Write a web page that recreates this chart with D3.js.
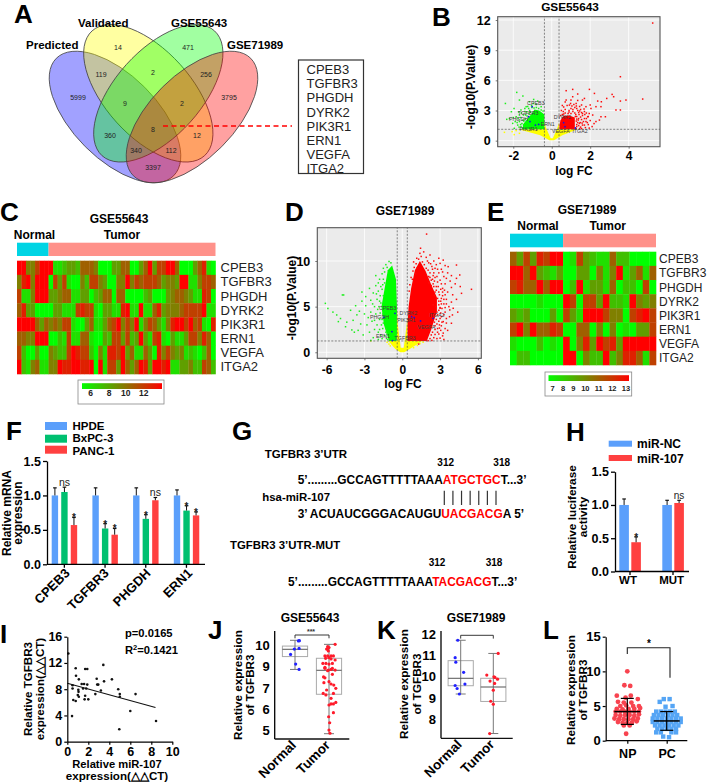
<!DOCTYPE html>
<html><head><meta charset="utf-8">
<script src="https://cdn.jsdelivr.net/npm/d3@7/dist/d3.min.js"></script>
<style>html,body{margin:0;padding:0;background:#fff}svg{display:block}text{font-family:"Liberation Sans",Arial,sans-serif}</style>
</head><body><svg id="c" width="712" height="783"></svg>
<script>
// ---------- DATA ----------
const genes=["CPEB3","TGFBR3","PHGDH","DYRK2","PIK3R1","ERN1","VEGFA","ITGA2"];
const vennNames=["Predicted","Validated","GSE55643","GSE71989"];
const vennCounts=[["5999",78,97],["14",118,47],["471",188,47],["3795",229,97],["119",101,74],["2",153,72],["256",206,74],["9",125,103],["2",182,103],["360",110,135],["8",153,129],["12",197,135],["340",136,150],["112",171,150],["3397",153,167]];
const volcBRed=[[5.25,11.7],[3.57,6.36],[4.73,4.14],[3.86,4.04],[3.57,3.94],[3.57,3.05],[3.34,3.05],[3.14,4.6],[3.22,4.37],[2.86,4.2],[2.58,3.87],[2.39,3.94],[2.56,3.38],[2.3,3.38],[1.96,5.1],[2.22,4.7],[1.7,4.2],[1.6,4.04],[.75,4.97],[1.09,5.1],[1.09,4.37],[1.35,4.64],[1,4.04],[.75,4.04],[.92,3.54],[1.27,3.7],[1.78,3.38],[2.04,3.2],[2.13,2.55],[1.87,2.38],[1.6,2.7],[2.56,2.38],[2.79,2.38],[2.48,2.05],[2.3,1.9],[1.78,1.9],[1.44,1.72],[1.6,1.55],[1.27,1.2],[1.3,3.2],[1.5,3.1],[1.7,2.9],[1.4,2.8],[1.2,3.3],[1,3.2],[.9,3],[.7,3.1],[.6,2.9],[.5,3],[1.6,2.5],[1.8,2.2],[1.9,1.6],[2.1,1.4],[1.4,2.2],[1.55,2.1],[1.35,1.8],[1.65,1.9],[1.25,2.6],[1.1,2.9],[.85,2.7],[1.45,3.4],[1.15,3.6],[.8,3.5],[1.35,4],[1.5,2.35],[1.72,2.6],[1.95,2.7],[1.3,2.4],[2,2],[1.5,1.35],[1.75,1.3],[1.45,2.95],[1.05,3.45],[.62,3.35],
[1.3,1.4],[1.3,1.6],[1.4,1.5],[1.28,1.95],[1.38,2.05],[1.48,1.8],[1.58,1.75],[1.3,2.15],[1.23,2.4],[1.42,2.6],[1.35,3],[1.55,2.8],[1.2,2.75],[1,2.7],[.9,2.85],[.7,2.75],[.55,2.6],[.45,2.5],[.62,2.65],[1.1,3.1],[1.28,3.45],[.98,3.7],[.7,3.85],[.55,3.5],[1.55,3.55],[1.8,2.75],[1.7,2.2],[1.85,1.8],[1.7,1.55],[1.95,1.25],[2.2,1.7],[1.55,1.2],[1.45,1.2],[1.68,3.15],[2,3.55],[1.9,2.4]];
const volcBGreen=[[-1.82,4.8],[-2.41,3.7],[-1.5,4.44],[-1.68,4.04],[-.94,4.1],[-1.96,3.2],[-2.1,2.88],[-2.34,2.12],[-2.2,2.2],[-1.85,2.38],[-1.68,2.55],[-2.03,1.72],[-1.77,1.55],[-1.95,1.23],[-1.6,3.05],[-1.33,3.38],[-1.16,3.87],[-.73,3.94],[-.55,3.38],[-1.5,2.05],[-1.68,1.9],[-1.6,1.4],[-1.47,2.55],[-1.2,3.2],[-1.05,3.5],[-.8,3.6],[-1.4,2.9],[-1.75,2.2],[-1.55,1.7],[-1.9,1.9],[-2.0,2.3],[-1.62,2.3],[-1.3,2.85],[-1.15,3.0],[-1.58,2.75],
[-1.52,1.25],[-1.7,1.35],[-1.62,1.6],[-1.45,1.95],[-1.38,2.15],[-1.28,2.45],[-1.18,2.7],[-1.1,2.85],[-1.03,3.3],[-.92,3.25],[-.8,3.3],[-.68,3.2],[-.55,3.05],[-.45,2.95],[-1.25,3.4],[-.95,3.7],[-1.8,1.8],[-1.4,3.2],[-1.72,2.85],[-1.35,2.55]];
const volcBYellow=[[-2.46,.83],[-2.06,.9],[-1.68,.73],[-1.85,1],[-1.95,.6]];
const volcBGreenDense=[[-.38,1.13],[-1.5,1.13],[-1.5,1.6],[-1.25,2.2],[-1.05,2.65],[-.9,3.1],[-.65,3.0],[-.38,2.6]];
const volcBRedDense=[[.4,1.13],[1.2,1.13],[1.2,2.3],[.9,2.5],[.6,2.45],[.45,2],[.4,1.5]];
const volcBYellowDense=[[-1.75,1.13],[-.38,1.13],[-.38,1.8],[-.3,1.3],[-.06,.25],[.06,.25],[.3,1.3],[.38,1.8],[.38,1.13],[1.35,1.13],[.55,.55],[.12,.05],[-.12,.05],[-.6,.55],[-1.3,.9]];
const volcBGenes=[[-1.02,3.38],[-1.2,2.38],[-1.13,1.9],[.62,1.79],[-.85,1.55],[-.68,1.62],[.69,1.39],[1.23,1.26]];
const volcBLabelShift=[[-5,-1.5],[-11,-1.5],[-21,-0.5],[-10,-3.5],[-16,6],[2,2],[-13,6],[-3,5]];
const volcDRed=[[1.93,12.95],[1.4,10.84],[2.2,10.66],[3.25,10.1],[3,9.74],[4.3,9.56],[3.64,9.38],[4.56,8.47],[4.3,8.1],[5.49,6.9],[4.7,6.46],[4.04,4.82],[3.77,4.64],[3.98,4.09],[3.9,3.18],[3.25,3.36],[3,4.82],[1.7,11],[1.3,10.2],[1.9,10.4],[2.5,10],[2.9,10.3],[3.4,9.5],[2.7,9.6],[2.1,9.8],[1.6,9.9],[3.1,9.1],[3.6,8.7],[3.9,8.4],[2.4,9.1],[2.9,8.7],[3.3,8.3],[3.8,7.8],[4.2,7.5],[4.6,7.2],[2.6,8.2],[3,7.9],[3.4,7.5],[3.9,7.1],[3.2,7],[3.6,6.6],[4,6.3],[4.3,5.8],[3.2,6.2],[3.5,5.8],[3.9,5.5],[3.3,5.3],[3.7,5],[4.4,4.4],[3.4,4.4],[3.1,3.9],[3.5,3.7],[2.9,3.4],[3.1,2.9],[3.4,2.6],[2.8,2.6],[2.9,2],[2.5,1.6],[3.2,1.8],[2.6,2.9],[2.1,8.3],[1.9,9.2],[2.3,7.9],[2.7,7.2],[2.9,6.6],[3.05,5.6],[3,4.9],[2.7,3.6],[2.4,2.2],[2.2,1.5],[2.3,1.9],[2.45,7.5],[2.6,6.6],[1.1,9.7],[.85,8.9],[.7,8.2],[.55,6.7],[1.15,10.3],[.95,9.3],[2.8,5.9],[2.65,5],[2.6,4.2],[1.3,.9],[1.2,1.3],[2.05,1.27],[2.75,4.4],[3.6,2.4],[3.3,1.4],
[2.35,9.4],[2.05,9],[2.2,8.7],[2.5,8.7],[2.75,8.3],[2.2,8.2],[2.4,8],[2.8,7.7],[3.1,7.5],[2.55,7.8],[2.5,7.2],[2.85,7.2],[3.05,6.9],[3.35,6.8],[2.7,6.8],[2.95,6.3],[3.2,6.6],[3.4,6.3],[3.1,5.9],[3.3,5.8],[2.9,5.6],[3.1,5.3],[3.5,5.3],[2.9,5.2],[3.15,4.8],[3.4,4.9],[3.05,4.3],[3.3,4.1],[2.9,4.6],[3,3.7],[2.75,3.1],[2.95,3],[2.55,3.3],[2.6,2.5],[2.8,2.2],[3.05,2.4],[2.35,1.3],[2.6,1.95],[2.75,1.5],[3,1.55],[3.25,2.1],[1.5,10.5],[1.15,9.2],[1.75,9.6],[2,10],[1.05,8.6],[.8,8],[2.45,8.4],[2.25,9.7],[2.6,9.2],[2.8,9.1],[3.2,8.8],[3.5,8.1],[.6,7.4],[.9,9.9],[1.45,11.4],[2.1,7.6],[2.3,7.3],[2.55,6.2],[2.45,5.2],[2.8,4.1],[3.5,3.2],[3.15,3.3],[3.75,3.9],[1.9,1.3],[2.95,2.65]];
const volcDGreen=[[-6.1,5.36],[-5.9,4.8],[-4.75,6.28],[-4.65,6.28],[-5.2,4.09],[-5.07,3.36],[-4.5,2.8],[-4,2.45],[-5.5,4.4],[-4.9,3.7],[-4.4,3.3],[-3.9,3.5],[-3.5,2.4],[-3.3,3.1],[-3.6,4.1],[-4.1,4.6],[-3.7,5.1],[-3.2,5.6],[-3.4,4.5],[-3,4.2],[-2.7,3.8],[-2.9,5.1],[-2.5,5.7],[-2.9,6.1],[-2.6,7],[-2.3,6.5],[-3.2,6.6],[-2.1,7.3],[-1.9,7.6],[-2.2,5],[-2.5,4.4],[-2.1,4.2],[-2.8,3],[-2.4,3.4],[-2.6,2.2],[-2,3],[-1.8,2.5],[-2.2,2.5],[-1.7,1.9],[-2.3,1.6],[-1.9,1.4],[-1.6,1.5],[-2.5,1.3],[-1.8,3.6],[-2,5.8],[-1.9,6.7],[-1.8,8],[-1.6,8.6],[-1.5,9.2],[-1.3,9.6],[-1.05,9.95],[-.9,9.8],[-2.1,8.4],[-1.75,4.3],[-1.7,5.4],[-1.85,5],[-1.3,2.2],[-1.4,1.8],[-1.25,1.5],[-3.1,1.9],[-1.55,7.4],[-1.6,6.9],[-3.8,2.2],
[-1.7,7.2],[-1.5,8],[-1.75,6.2],[-1.8,5.6],[-1.95,4.7],[-1.55,4.2],[-1.6,3.6],[-1.5,3.2],[-1.55,2.6],[-1.3,2.6],[-1.2,2],[-1.15,1.4],[-1.4,8.8],[-1.2,9.3],[-1.65,3],[-1.9,2.2],[-2.2,3.5],[-2.35,5.3],[-2.05,6.4],[-1.4,7.6],[-1.5,6.2]];
const volcDYellow=[[-2.5,1.25],[-1.2,1.1],[-.95,.7],[1.65,1.1],[1.2,.75],[1.4,.95],[-1.05,.9],[.9,.5]];
const volcDGreenDense=[[-.42,2.1],[-.42,5],[-.5,8],[-.8,9.5],[-1.15,9],[-1.4,7],[-1.65,5],[-1.45,3],[-1.05,1.24],[-.45,1.24]];
const volcDRedDense=[[.42,1.24],[1.95,1.24],[2.3,2.5],[2.75,4.5],[2.75,6],[2.3,7.4],[1.85,8.9],[1.4,10],[1.0,9],[.7,7],[.5,5],[.42,3]];
const volcDYellowDense=[[-1.1,1.24],[-.42,1.24],[-.42,5],[-.35,3],[-.12,.5],[.12,.5],[.35,3],[.42,4],[.42,1.24],[1.6,1.24],[.6,.35],[.15,0],[-.15,0],[-.55,.35]];
const volcDGenes=[[-.58,4.27],[-.77,1.28],[-1.45,3.83],[.74,3.9],[.95,3.8],[-.82,2.26],[1.45,3.43],[2.45,3.72]];
const volcDLabelShift=[[-16,-3],[2,-1],[-14,2],[-12,-2],[-17,4],[-16,6],[-3,8],[-4,-1]];
const heatC=[
[13,13,9,9,11,13,13,13,6,6,7,8,8,7,10,10,10,9,5,5,5,8,8,10,10,5,5,8,10,13,8,11,11,13,13,10,5,5,5,8,10,12,6,5],
[9,12,13,9,13,13,13,5,11,8,11,6,5,5,9,7,11,11,9,8,5,5,9,9,13,9,11,10,11,11,11,10,8,9,9,8,13,13,6,6,9,11,11,10],
[11,6,6,9,13,13,13,8,8,9,10,10,6,6,8,8,5,7,8,10,10,5,10,10,5,5,5,5,7,8,5,5,5,8,9,10,10,9,8,6,6,12,11,5],
[10,12,8,8,5,5,5,5,8,8,6,6,6,11,12,11,11,6,5,8,8,6,6,12,13,6,6,13,6,6,10,12,8,9,9,9,10,11,11,11,11,13,6,6],
[13,13,13,13,10,8,10,9,10,9,11,11,6,5,5,8,10,6,6,8,10,11,13,9,11,9,13,6,9,11,10,8,6,9,12,13,13,11,13,10,11,6,5,12],
[10,10,9,9,13,13,13,5,5,7,6,11,6,6,10,10,6,5,5,8,7,11,11,8,11,7,8,13,8,6,11,12,6,5,8,6,6,8,11,11,9,12,10,5],
[11,7,5,5,8,5,5,9,8,7,7,11,13,12,11,11,7,5,9,6,12,12,11,13,8,10,6,6,10,8,5,12,9,11,9,8,9,6,7,6,5,7,10,5],
[13,7,6,9,10,6,6,9,9,13,12,12,13,13,12,12,13,5,13,6,11,11,8,13,10,8,10,13,12,8,13,13,12,13,6,6,8,8,9,7,7,11,10,7]];
const heatE=[
[10,8,11,8,12,11,13,13,5,6,11,8,7,6,6,10,7,7,5,5,5,5],
[13,13,10,13,8,7,6,8,5,5,8,8,5,9,6,9,13,6,8,10,6,10],
[11,12,10,10,13,10,13,13,5,7,13,6,8,8,6,10,5,7,7,5,11,5],
[5,5,5,5,6,5,5,5,13,11,5,11,11,8,13,7,7,6,13,9,8,9],
[8,7,8,5,5,5,8,5,11,8,6,13,13,13,11,9,9,5,11,12,13,11],
[11,13,9,13,10,10,12,11,5,5,10,10,5,9,5,9,5,6,5,8,8,11],
[6,5,5,5,7,5,6,5,13,5,9,12,8,13,11,12,8,13,13,13,13,13],
[5,7,7,5,5,5,5,5,13,13,5,9,7,7,13,7,9,12,12,10,6,11]];
const heatCNormal=7, heatENormal=8;
const barFGroups=["CPEB3","TGFBR3","PHGDH","ERN1"];
const barFSeries=["HPDE","BxPC-3","PANC-1"];
const barFValues=[[1,1.05,.57],[1,.52,.43],[1,.66,.93],[1,.78,.71]];
const barFErrTop=[[1.11,1.12,.68],[1.11,.59,.52],[1.11,.72,.97],[1.08,.85,.76]];
const barFMarks=[["","ns","*"],["","*","*"],["","*","ns"],["","*","*"]];
const barHGroups=["WT","MUT"];
const barHSeries=["miR-NC","miR-107"];
const barHValues=[[1,.44],[1,1.03]];
const barHErrTop=[[1.09,.52],[1.07,1.07]];
const barHMarks=[["","*"],["","ns"]];
const scatterI=[[.1,13.45],[.8,11.2],[.83,10.05],[1.1,9.5],[1.7,11.07],[1.9,11.07],[3.43,11.7],[2.8,9.6],[3.5,9.2],[4.25,9.5],[2.95,8.7],[2.85,8.7],[3.2,7.8],[2.67,7.25],[4.85,8],[5,7.25],[5,6.85],[6.5,7.25],[6,4.67],[4.95,1.9],[8.45,3.15],[.45,3.9],[.5,8.1],[.5,8.6],[.57,6.35],[.8,6.2],[1.05,7.9],[1.07,7.6],[1,7.1],[1.1,6.85],[1.37,8.8],[1.6,8.8],[1.5,8.1],[1.8,8.1],[1.9,8.7],[1.7,7],[1.65,6.45],[2,6.45]];
const lineI=[[0,8.9],[8.4,5.2]];
const jTickPos=[5,6,7,8,9], jTickLabels=["5","6","7","9","10"];
const jStats=[{q1:8.46,med:8.8,q3:8.95,lo:7.86,hi:9.22},{q1:6.7,med:7.82,q3:8.38,lo:4.86,hi:9.03}];
const jNormal=[[.1,9.19],[.13,9.2],[.12,8.84],[-.02,8.81],[-.13,8.56],[.02,8.11],[.12,7.86]];
const jTumor=[[1.18,9.03],[.96,8.92],[1,8.88],[.93,8.81],[.96,8.81],[.98,8.72],[.88,8.49],[.96,8.49],[1.06,8.49],[1.13,8.49],[.9,8.38],[1,8.41],[1.06,8.35],[1.18,8.3],[.82,8.14],[.91,8.14],[1,8.11],[1.1,8.14],[.88,7.91],[1.1,7.91],[1.18,7.83],[.98,7.83],[1.06,7.86],[.96,7.8],[.88,7.96],[1.1,7.63],[.84,7.51],[.88,7.47],[.85,7.24],[1,7.29],[1.06,7.18],[1.14,7.13],[1.2,6.98],[.93,6.9],[.83,6.74],[.91,6.67],[1.13,6.74],[1.06,6.51],[1.2,6.32],[1.13,6.25],[1,6.2],[1.06,6.25],[1.13,5.84],[.99,5.65],[1.02,5.37],[1,5.03],[1.03,4.88]];
const kStats=[{q1:9.58,med:9.93,q3:10.76,lo:9.19,hi:11.72},{q1:8.84,med:9.52,q3:9.93,lo:7.33,hi:11.1}];
const kNormal=[[-.09,11.72],[-.17,10.9],[-.15,10.69],[-.17,9.59],[-.11,9.45],[-.04,9.19],[.09,10.21],[.13,9.66]];
const kTumor=[[1.15,11.1],[.8,10.08],[.9,9.8],[1.02,10],[1.05,9.97],[1.13,9.89],[1.04,9.69],[1,9.37],[.92,8.85],[1,8.71],[.89,7.33]];
const boxCats=["Normal","Tumor"];
const lNP=[[0,10],[-2.5,8],[2.5,7.9],[-9,6.5],[3,6.5],[-1.5,6.2],[9,6],[-8,5.6],[-3,5.5],[3.5,5.5],[-6,5],[-1,5.1],[5,5],[10,5],[-9,4.6],[-4,4.5],[1,4.6],[6,4.6],[11,4.7],[-10,4.2],[-6,4.2],[-2,4.2],[2,4.2],[6,4.2],[10,4.2],[-10,3.7],[-6,3.6],[-2,3.7],[2,3.7],[6,3.6],[10,3.8],[-11,3.2],[-7,3.1],[-3,3.1],[1,3.1],[5,3.1],[9,3.2],[-8,2.7],[-4,2.6],[0,2.6],[4,2.6],[8,2.8],[-3,2.2],[2,2.2],[-1,1]];
const lPC=[[-2.5,6],[2.5,6],[-6,5.6],[-1,4.9],[5,5],[-9,4.2],[-5,4.2],[-1,4.2],[3,4.2],[7,4.2],[-11,3.7],[-7,3.7],[-3,3.7],[1,3.7],[5,3.7],[9,3.7],[-12,3.2],[-8,3.2],[-4,3.2],[0,3.2],[4,3.2],[8,3.2],[12,3.2],[-12,2.7],[-8,2.7],[-4,2.7],[0,2.7],[4,2.7],[8,2.7],[12,2.7],[-10,2.2],[-6,2.2],[-2,2.2],[2,2.2],[6,2.2],[10,2.2],[-8,1.7],[-4,1.7],[0,1.7],[4,1.7],[8,1.7],[-9,1.2],[-5,1.2],[4,1.2],[8,1.2],[-3,.6],[2,.5]];
const lStats=[{mean:4.2,lo:2.35,hi:6.1},{mean:2.85,lo:1.5,hi:4.2}];
const lCats=["NP","PC"];
const seqTop=[["5’.........GCCAGTTTTTAAA","#000"],["ATGCTGC","#f00"],["T...3’","#000"]];
const seqMid=[["3’ ACUAUCGGGACAUGU","#000"],["UACGACG","#f00"],["A 5’","#000"]];
const seqMut=[["5’.........GCCAGTTTTTAAA","#000"],["TACGACG","#f00"],["T...3’","#000"]];
const seedPairs=[0,1,2,3,4,5,6];
const letters=[["A",14,23],["B",432,26],["C",0,221],["D",285,221],["E",487,221],["F",6,440],["G",232,440],["H",566,441],["I",0,643],["J",208,639],["K",377,639],["L",543,639]];

// ---------- HELPERS ----------
const svg=d3.select("#c");
const FF='"Liberation Sans",Arial,sans-serif';
function T(x,y,s,o={}){const t=svg.append("text").attr("x",x).attr("y",y).text(s)
 .attr("font-size",o.size||11).attr("font-weight",o.weight||"bold").attr("fill",o.fill||"#000")
 .attr("text-anchor",o.anchor||"start");
 if(o.family)t.attr("font-family",o.family);
 if(o.rot!=null)t.attr("transform",`rotate(${o.rot} ${x} ${y})`);return t;}
function yLab(x,y,s,size=12){return T(x,y,s,{size,anchor:"middle",rot:-90});}
function axis(g,ax,o={}){g.call(ax);g.selectAll("text").attr("font-size",o.size||12.5).attr("font-weight","bold").attr("font-family",FF).attr("fill","#000");
 g.selectAll("path,line").attr("stroke",o.color||"#000").attr("stroke-width",o.sw||1.3);return g;}

letters.forEach(l=>T(l[1],l[2],l[0],{size:26}));

// ---------- A: VENN ----------
const venn=[{c:[115,117],a:83,b:42,r:45,f:"#0000ff"},{c:[148.3,93.3],a:84,b:43,r:48,f:"#ffff00"},{c:[158.3,93.3],a:84,b:43,r:-48,f:"#00ff00"},{c:[192,117],a:83,b:42,r:-45,f:"#ff0000"}];
venn.forEach(e=>{svg.append("ellipse").attr("cx",e.c[0]).attr("cy",e.c[1]).attr("rx",e.a).attr("ry",e.b)
 .attr("transform",`rotate(${e.r} ${e.c[0]} ${e.c[1]})`).attr("fill",e.f).attr("fill-opacity",.37).attr("stroke","#444").attr("stroke-width",.8);});
[[26,49],[78,27],[171,27],[227,49]].forEach((p,i)=>T(p[0],p[1],vennNames[i],{size:11.5}));
vennCounts.forEach(v=>T(v[1],v[2]+2.5,v[0],{size:7,weight:"normal",anchor:"middle",family:'"Liberation Serif",serif',fill:"#222"}));
svg.append("line").attr("x1",163).attr("x2",292).attr("y1",126).attr("y2",126).attr("stroke","#f00").attr("stroke-width",1.5).attr("stroke-dasharray","5,3.5");
svg.append("rect").attr("x",298.5).attr("y",60).attr("width",65).attr("height",113.5).attr("fill","#fff").attr("stroke","#333").attr("stroke-width",1.2);
genes.forEach((g,i)=>T(306.5,74+i*14.2,g,{size:13,weight:"normal",fill:"#222"}));

// ---------- B & D: VOLCANO ----------
function volcano(o){
 const x=d3.scaleLinear().domain(o.xd).range(o.xr), y=d3.scaleLinear().domain(o.yd).range(o.yr);
 const g=svg.append("g");
 g.append("rect").attr("x",o.xr[0]).attr("y",o.yr[1]).attr("width",o.xr[1]-o.xr[0]).attr("height",o.yr[0]-o.yr[1]).attr("fill","#ebebeb");
 o.xt.forEach(t=>g.append("line").attr("x1",x(t)).attr("x2",x(t)).attr("y1",o.yr[0]).attr("y2",o.yr[1]).attr("stroke","#fff").attr("stroke-width",.8));
 o.yt.forEach(t=>g.append("line").attr("y1",y(t)).attr("y2",y(t)).attr("x1",o.xr[0]).attr("x2",o.xr[1]).attr("stroke","#fff").attr("stroke-width",.8));
 const ln=d3.line().x(d=>x(d[0])).y(d=>y(d[1])).curve(d3.curveLinearClosed);
 [[o.yd_,"#ffff00"],[o.gd,"#00ff00"],[o.rd,"#ff0000"]].forEach(a=>g.append("path").attr("d",ln(a[0])).attr("fill",a[1]));
 [[o.ys,"#ffff00"],[o.gs,"#1cf01c"],[o.rs,"#ff0a0a"]].forEach(a=>g.append("g").selectAll("rect").data(a[0]).join("rect")
   .attr("x",d=>x(d[0])-.75).attr("y",d=>y(d[1])-.75).attr("width",1.5).attr("height",1.5).attr("fill",a[1]));
 [-o.vt,o.vt].forEach(v=>g.append("line").attr("x1",x(v)).attr("x2",x(v)).attr("y1",o.yr[0]).attr("y2",o.yr[1]).attr("stroke","#555").attr("stroke-width",.7).attr("stroke-dasharray","2,1.5"));
 g.append("line").attr("x1",o.xr[0]).attr("x2",o.xr[1]).attr("y1",y(o.ht)).attr("y2",y(o.ht)).attr("stroke","#555").attr("stroke-width",.7).attr("stroke-dasharray","2,1.5");
 g.append("rect").attr("x",o.xr[0]).attr("y",o.yr[1]).attr("width",o.xr[1]-o.xr[0]).attr("height",o.yr[0]-o.yr[1]).attr("fill","none").attr("stroke","#555").attr("stroke-width",1.1);
 g.selectAll("circle").data(o.genes).join("circle").attr("cx",d=>x(d[0])).attr("cy",d=>y(d[1])).attr("r",.9).attr("fill","#1414e6");
 o.genes.forEach((d,i)=>T(x(d[0])+o.shift[i][0],y(d[1])+o.shift[i][1],genes[i],{size:5.3,weight:"normal",fill:"#3c3c3c"}));
 const ax=svg.append("g").attr("transform",`translate(0,${o.yr[0]})`);
 axis(ax,d3.axisBottom(x).tickValues(o.xt).tickSize(2).tickPadding(o.xpad||5).tickFormat(d=>d<0?"-"+Math.abs(d):d),{color:"#555",sw:.8,size:12});ax.select(".domain").remove();
 const ay=svg.append("g").attr("transform",`translate(${o.xr[0]},0)`);
 axis(ay,d3.axisLeft(y).tickValues(o.yt).tickSize(2).tickPadding(5),{color:"#555",sw:.8,size:12.5}); ay.select(".domain").remove();
}
volcano({xd:[-2.81,5.63],xr:[497.7,660],yd:[-.6,12.33],yr:[146.7,16.7],xt:[-2,0,2,4],yt:[0,3,6,9,12],vt:.38,ht:1.13,xpad:3,
 gd:volcBGreenDense,rd:volcBRedDense,yd_:volcBYellowDense,gs:volcBGreen,rs:volcBRed,ys:volcBYellow,genes:volcBGenes,shift:volcBLabelShift});
T(570,11,"GSE55643",{size:11.8,anchor:"middle"});
T(574,175,"log FC",{size:12,anchor:"middle"});
yLab(475,87,"-log10(P.Value)",12);
volcano({xd:[-6.74,6.27],xr:[317.3,481.3],yd:[-.66,13.65],yr:[358.3,227.7],xt:[-6,-3,0,3,6],yt:[0,5,10],vt:.4,ht:1.24,
 gd:volcDGreenDense,rd:volcDRedDense,yd_:volcDYellowDense,gs:volcDGreen,rs:volcDRed,ys:volcDYellow,genes:volcDGenes,shift:volcDLabelShift});
T(405,215,"GSE71989",{size:12,anchor:"middle"});
T(403,388,"log FC",{size:12,anchor:"middle"});
yLab(296,298,"-log10(P.Value)",12);

// ---------- C & E: HEATMAPS ----------
const heatColor=d3.scaleLinear().domain([5,13]).range(["#00ff00","#ff0000"]);
function heat(o){
 const x=d3.scaleBand().domain(d3.range(o.data[0].length)).range([o.x0,o.x1]);
 const y=d3.scaleBand().domain(d3.range(8)).range([o.y0,o.y1]);
 o.data.forEach((r,i)=>svg.append("g").selectAll("rect").data(r).join("rect").attr("x",(d,j)=>x(j)).attr("y",y(i)).attr("width",x.bandwidth()+.3).attr("height",y.bandwidth()+.3).attr("fill",d=>heatColor(d)));
 const xn=x(o.normal);
 svg.append("rect").attr("x",o.x0).attr("y",o.by0).attr("width",xn-o.x0).attr("height",o.by1-o.by0).attr("fill","#00d4e4");
 svg.append("rect").attr("x",xn).attr("y",o.by0).attr("width",o.x1-xn).attr("height",o.by1-o.by0).attr("fill","#ff918a");
 genes.forEach((g,i)=>T(o.x1+o.lx,y(i)+y.bandwidth()/2+4.5,g,{size:o.ls,weight:"normal",fill:"#222"}));
}
heat({data:heatC,normal:heatCNormal,x0:17,x1:215.5,y0:260.7,y1:374,by0:242.7,by1:256,lx:5,ls:13});
T(119,223,"GSE55643",{size:12,anchor:"middle"});T(34.5,239,"Normal",{size:12,anchor:"middle"});T(122,239,"Tumor",{size:12,anchor:"middle"});
heat({data:heatE,normal:heatENormal,x0:510,x1:656,y0:251.7,y1:365,by0:233.7,by1:247.3,lx:3,ls:12});
T(587,214,"GSE71989",{size:12,anchor:"middle"});T(538,230,"Normal",{size:12,anchor:"middle"});T(607.7,230,"Tumor",{size:12,anchor:"middle"});
const defs=svg.append("defs");const grad=defs.append("linearGradient").attr("id","hg");
grad.append("stop").attr("offset","0%").attr("stop-color","#00ff00");grad.append("stop").attr("offset","100%").attr("stop-color","#ff0000");
function colorbar(o){
 svg.append("rect").attr("x",o.bx0).attr("y",o.by0).attr("width",o.bx1-o.bx0).attr("height",o.by1-o.by0).attr("fill","#fff").attr("stroke","#888").attr("stroke-width",.8);
 svg.append("rect").attr("x",o.gx0).attr("y",o.by0+3.2).attr("width",o.gx1-o.gx0).attr("height",5.8).attr("fill","url(#hg)");
 o.ticks.forEach((t,i)=>T(o.tx[i],o.ty,t,{size:o.size,anchor:"middle",fill:"#222"}));
}
colorbar({bx0:78,bx1:164,by0:380,by1:404,gx0:82,gx1:162,ty:396,size:8.5,ticks:[6,8,10,12],tx:[90.7,109,125.7,143.7]});
colorbar({bx0:545,bx1:631.7,by0:372,by1:396,gx0:548.5,gx1:629,ty:391,size:7.5,ticks:[7,8,9,10,11,12,13],tx:[552.7,563,573.3,585.3,598.7,612.3,626]});

// ---------- F & H: BARS ----------
const barCols={"HPDE":"#5b9ffb","BxPC-3":"#00c070","PANC-1":"#ff4040","miR-NC":"#5b9ffb","miR-107":"#ff4040"};
function bars(o){
 const y=d3.scaleLinear().domain([0,1.5]).range([o.y0,o.y15]);
 const x=d3.scaleBand().domain(o.groups).range(o.xr);
 const s=d3.scaleBand().domain(o.series).range(o.sr);
 o.groups.forEach((g,i)=>o.series.forEach((n,j)=>{
  const bx=x(g)+s(n), bw=o.bw, cx=bx+bw/2;
  svg.append("rect").attr("x",bx).attr("y",y(o.vals[i][j])).attr("width",bw).attr("height",y(0)-y(o.vals[i][j])).attr("fill",barCols[n]);
  svg.append("line").attr("x1",cx).attr("x2",cx).attr("y1",y(o.vals[i][j])).attr("y2",y(o.err[i][j])).attr("stroke","#111").attr("stroke-width",1);
  svg.append("line").attr("x1",cx-1.8).attr("x2",cx+1.8).attr("y1",y(o.err[i][j])).attr("y2",y(o.err[i][j])).attr("stroke","#111").attr("stroke-width",1.2);
  const m=o.marks[i][j];
  if(m)T(cx,y(o.err[i][j])+(m=="*"?4:-1.5),m,{size:m=="*"?10:o.ns,weight:m=="*"?"bold":"normal",anchor:"middle",fill:"#222"});
 }));
 const ay=svg.append("g").attr("transform",`translate(${o.ax},0)`);
 axis(ay,d3.axisLeft(y).tickValues([0,.5,1,1.5]).tickFormat(d3.format(".1f")).tickSize(4).tickSizeOuter(0).tickPadding(2),{sw:1.3,size:12.5});
 const ab=svg.append("g").attr("transform",`translate(0,${o.y0})`);
 axis(ab,d3.axisBottom(x).tickSize(3.5).tickSizeOuter(0).tickFormat(""),{sw:1.3});
 ab.select(".domain").attr("d",`M${o.ax},0H${o.axEnd}`);
}
bars({groups:barFGroups,series:barFSeries,vals:barFValues,err:barFErrTop,marks:barFMarks,y0:564.3,y15:461,xr:[44,206.8],sr:[7.7,36.3],bw:6.4,ax:47,axEnd:205,ns:10.5});
barFGroups.forEach((g,i)=>T([70.5,109.5,151.5,193][i],574,g,{size:13,anchor:"end",rot:-45}));
barFSeries.forEach((n,i)=>{svg.append("rect").attr("x",45).attr("y",[422,434.7,445.7][i]).attr("width",22).attr("height",8).attr("fill",barCols[n]);
 T(72.5,[429.5,442,455][i],n,{size:11.5});});
yLab(10.5,513,"Relative mRNA",12);yLab(21.5,513,"expression",12);
bars({groups:barHGroups,series:barHSeries,vals:barHValues,err:barHErrTop,marks:barHMarks,y0:571.5,y15:471.7,xr:[608.5,694.5],sr:[10.8,34.8],bw:9.6,ax:615,axEnd:689,ns:10});
barHGroups.forEach((g,i)=>T(i?671.7:628,584,g,{size:11.5,anchor:"middle"}));
barHSeries.forEach((n,i)=>{svg.append("rect").attr("x",608.7).attr("y",[440.7,455][i]).attr("width",23.3).attr("height",6).attr("fill",barCols[n]);
 T(637,[448,462.5][i],n,{size:12});});
yLab(575.5,517,"Relative luciferase",11.8);yLab(587,517,"activity",11.8);

// ---------- G: SEQUENCES ----------
function seq(x,y,parts){const t=svg.append("text").attr("x",x).attr("y",y).attr("font-size",11.9).attr("font-weight","bold");
 parts.forEach(p=>t.append("tspan").text(p[0]).attr("fill",p[1]));}
T(264.7,458,"TGFBR3 3’UTR",{size:11.5});
T(445.7,465.7,"312",{size:10,anchor:"middle"});T(501.7,465.7,"318",{size:10,anchor:"middle"});
seq(297.7,484,seqTop);
T(262.3,500.7,"hsa-miR-107",{size:11.4});
const seedX=d3.scaleLinear().domain([0,6]).range([444.3,496]);
svg.append("g").selectAll("line").data(seedPairs).join("line").attr("x1",d=>seedX(d)).attr("x2",d=>seedX(d)).attr("y1",490.7).attr("y2",505).attr("stroke","#333").attr("stroke-width",1.2);
seq(297.7,518.3,seqMid);
T(230,549.3,"TGFBR3 3’UTR-MUT",{size:11.4});
T(437,566,"312",{size:10,anchor:"middle"});T(494,566,"318",{size:10,anchor:"middle"});
seq(288,586,seqMut);

// ---------- I: SCATTER ----------
{const x=d3.scaleLinear().domain([0,10]).range([67.3,172.3]),y=d3.scaleLinear().domain([0,16]).range([741.7,636.7]);
 svg.append("g").selectAll("circle").data(scatterI).join("circle").attr("cx",d=>x(d[0])).attr("cy",d=>y(d[1])).attr("r",1.3).attr("fill","#111");
 svg.append("path").attr("d",d3.line().x(d=>x(d[0])).y(d=>y(d[1]))(lineI)).attr("stroke","#111").attr("stroke-width",1.1);
 axis(svg.append("g").attr("transform","translate(67.3,0)"),d3.axisLeft(y).tickValues([0,4,8,12,16]).tickSize(3).tickSizeOuter(0).tickPadding(2),{size:12.5,sw:1.2});
 axis(svg.append("g").attr("transform","translate(0,741.7)"),d3.axisBottom(x).tickValues([0,2,4,6,8,10]).tickSize(3).tickSizeOuter(0).tickPadding(2),{size:12.5,sw:1.2});
 T(125,637,"p=0.0165",{size:11.2});
 const r=T(125,653.5,"R",{size:11.2});r.append("tspan").text("2").attr("font-size",7.5).attr("dy",-3.5);r.append("tspan").text("=0.1421").attr("dy",3.5);
 T(117,767.7,"Relative miR-107",{size:11.2,anchor:"middle"});T(117,780,"expression(△△CT)",{size:11.6,anchor:"middle"});
 yLab(32,689,"Relative TGFBR3",11.6);yLab(44,689,"expression(△△CT)",11.6);
}

// ---------- J & K: BOX PLOTS ----------
function box(o){
 const x=v=>d3.scaleLinear().domain([0,1]).range(o.xr)(v);
 const y=d3.scaleLinear().domain(o.yd).range(o.yr);
 o.stats.forEach((s,i)=>{const c=x(i),g=svg.append("g").attr("stroke","#777").attr("fill","none");
  g.append("rect").attr("x",c-12.6).attr("y",y(s.q3)).attr("width",25.2).attr("height",y(s.q1)-y(s.q3)).attr("stroke","#aaa").attr("stroke-width",1);
  g.append("line").attr("x1",c).attr("x2",c).attr("y1",y(s.hi)).attr("y2",y(s.lo)).attr("stroke-width",1);
  [s.hi,s.lo].forEach(v=>g.append("line").attr("x1",c-5).attr("x2",c+5).attr("y1",y(v)).attr("y2",y(v)).attr("stroke-width",1));
  g.append("line").attr("x1",c-12.6).attr("x2",c+12.6).attr("y1",y(s.med)).attr("y2",y(s.med)).attr("stroke","#555").attr("stroke-width",1);
 });
 [[o.n,"#2222ff"],[o.t,"#ff1a2a"]].forEach(a=>svg.append("g").selectAll("circle").data(a[0]).join("circle").attr("cx",d=>x(d[0])).attr("cy",d=>y(d[1])).attr("r",1.6).attr("fill",a[1]));
 const ay=svg.append("g").attr("transform",`translate(${o.ax},0)`);
 axis(ay,d3.axisLeft(y).tickValues(o.tv).tickFormat((d,i)=>o.tl?o.tl[i]:d).tickSize(0).tickPadding(5),{size:13,sw:1.3});
 ay.select(".domain").attr("d",`M0,${o.bottom}V${o.top}`);
 svg.append("line").attr("x1",o.ax).attr("x2",o.axEnd).attr("y1",o.bottom).attr("y2",o.bottom).attr("stroke","#111").attr("stroke-width",1.3);
 svg.append("path").attr("d",`M${x(0)},${o.br+3.3}V${o.br}H${x(1)}V${o.br+3.3}`).attr("fill","none").attr("stroke","#222").attr("stroke-width",.9);
 boxCats.forEach((c,i)=>T(x(i)+2,o.bottom+7,c,{size:13.5,anchor:"end",rot:-45}));
}
box({xr:[295,329],yd:[5,9],yr:[730.7,645],stats:jStats,n:jNormal,t:jTumor,tv:jTickPos,tl:jTickLabels,ax:274.7,axEnd:349.3,bottom:739,top:631,br:635});
T(311,634,"***",{size:7,anchor:"middle",fill:"#333"});
T(310,622,"GSE55643",{size:12,anchor:"middle"});yLab(241.7,685,"Relative expression",11.7);yLab(254,685,"of TGFBR3",11.7);
box({xr:[460.7,493.3],yd:[8,12],yr:[719.3,634.3],stats:kStats,n:kNormal,t:kTumor,tv:[8,9,10,11,12],ax:441,axEnd:512.7,bottom:738.3,top:631,br:635.3});
T(476,622,"GSE71989",{size:12,anchor:"middle"});yLab(408,684,"Relative expression",11.7);yLab(421,684,"of TGFBR3",11.7);

// ---------- L: SWARM ----------
{const y=d3.scaleLinear().domain([0,15]).range([740.7,636.7]);
 const xc=d3.scalePoint().domain(lCats).range([627.3,666.7]);
 const dx=d3.scaleLinear().domain([-12,12]).range([-14,14]);
 svg.append("g").selectAll("circle").data(lNP).join("circle").attr("cx",d=>xc("NP")+dx(d[0])).attr("cy",d=>y(d[1])).attr("r",2.4).attr("fill","#f8434f");
 svg.append("g").selectAll("rect").data(lPC).join("rect").attr("x",d=>xc("PC")+dx(d[0])-2.2).attr("y",d=>y(d[1])-2.2).attr("width",4.4).attr("height",4.4).attr("fill","#55a5f5");
 lStats.forEach((s,i)=>{const c=xc(lCats[i]),g=svg.append("g").attr("stroke","#000");
  g.append("line").attr("x1",c).attr("x2",c).attr("y1",y(s.hi)).attr("y2",y(s.lo)).attr("stroke-width",1.2);
  g.append("line").attr("x1",c-13).attr("x2",c+13).attr("y1",y(s.mean)).attr("y2",y(s.mean)).attr("stroke-width",1.5);
  [s.hi,s.lo].forEach(v=>g.append("line").attr("x1",c-6.5).attr("x2",c+6.5).attr("y1",y(v)).attr("y2",y(v)).attr("stroke-width",1.2));});
 axis(svg.append("g").attr("transform","translate(605.7,0)"),d3.axisLeft(y).tickValues([0,5,10,15]).tickSize(3).tickSizeOuter(0).tickPadding(2),{size:13,sw:1.2});
 const ab=svg.append("g").attr("transform","translate(0,740.7)");
 axis(ab,d3.axisBottom(xc).tickSize(3).tickSizeOuter(0).tickPadding(5),{size:12.5,sw:1.2});ab.select(".domain").attr("d","M605.7,0H687.3");
 svg.append("path").attr("d","M627.3,654V647.7H670V677.7").attr("fill","none").attr("stroke","#222").attr("stroke-width",1.1);
 T(649,647,"*",{size:10,anchor:"middle"});
 yLab(574.7,690,"Relative expression",11.7);yLab(586.7,690,"of TGFBR3",11.7);
}
</script></body></html>
